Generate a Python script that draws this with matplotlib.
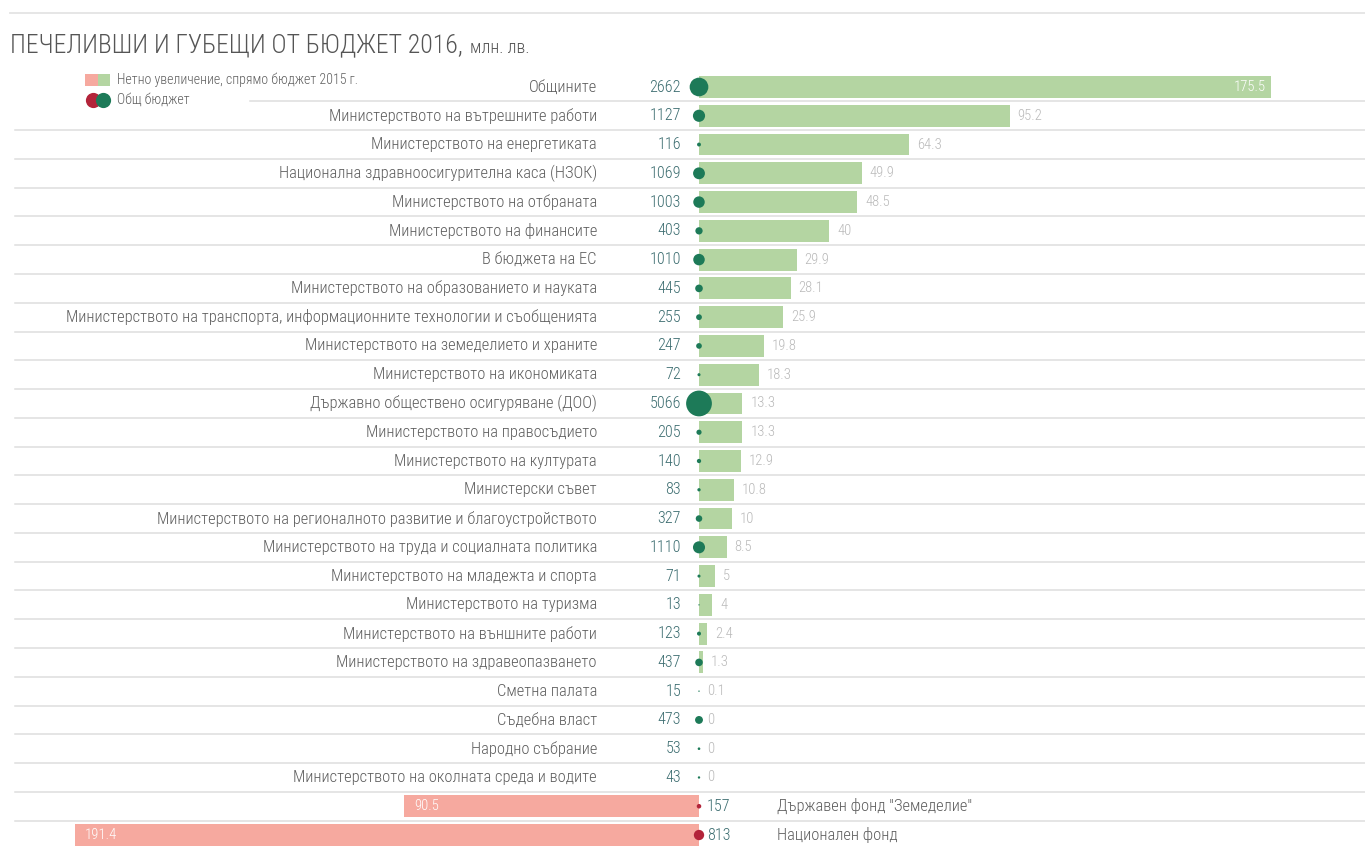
import matplotlib
matplotlib.use("Agg")
import matplotlib.pyplot as plt
import matplotlib.transforms as mtransforms
from matplotlib import font_manager
from matplotlib.patches import Rectangle

# ---------------- data ----------------
categories = [
    "Общините",
    "Министерството на вътрешните работи",
    "Министерството на енергетиката",
    "Национална здравноосигурителна каса (НЗОК)",
    "Министерството на отбраната",
    "Министерството на финансите",
    "В бюджета на ЕС",
    "Министерството на образованието и науката",
    "Министерството на транспорта, информационните технологии и съобщенията",
    "Министерството на земеделието и храните",
    "Министерството на икономиката",
    "Държавно обществено осигуряване (ДОО)",
    "Министерството на правосъдието",
    "Министерството на културата",
    "Министерски съвет",
    "Министерството на регионалното развитие и благоустройството",
    "Министерството на труда и социалната политика",
    "Министерството на младежта и спорта",
    "Министерството на туризма",
    "Министерството на външните работи",
    "Министерството на здравеопазването",
    "Сметна палата",
    "Съдебна власт",
    "Народно събрание",
    "Министерството на околната среда и водите",
    "Държавен фонд \"Земеделие\"",
    "Национален фонд",
]
total_budget = [2662, 1127, 116, 1069, 1003, 403, 1010, 445, 255, 247, 72, 5066,
                205, 140, 83, 327, 1110, 71, 13, 123, 437, 15, 473, 53, 43, 157, 813]
net_change = [175.5, 95.2, 64.3, 49.9, 48.5, 40, 29.9, 28.1, 25.9, 19.8, 18.3, 13.3,
              13.3, 12.9, 10.8, 10, 8.5, 5, 4, 2.4, 1.3, 0.1, 0, 0, 0, -90.5, -191.4]
change_labels = ["175.5", "95.2", "64.3", "49.9", "48.5", "40", "29.9", "28.1", "25.9",
                 "19.8", "18.3", "13.3", "13.3", "12.9", "10.8", "10", "8.5", "5", "4",
                 "2.4", "1.3", "0.1", "0", "0", "0", "90.5", "191.4"]
title_main = "ПЕЧЕЛИВШИ И ГУБЕЩИ ОТ БЮДЖЕТ 2016,"
title_unit = "млн. лв."
legend_labels = ["Нетно увеличение, спрямо бюджет 2015 г.", "Общ бюджет"]

# ---------------- fonts ----------------
available = {f.name for f in font_manager.fontManager.ttflist}
family = "DejaVu Sans"
for cand in ["Roboto Condensed", "Liberation Sans Narrow", "DejaVu Sans Condensed",
             "Open Sans Condensed"]:
    if cand in available:
        family = cand
        break
plt.rcParams["font.family"] = [family, "DejaVu Sans"]
plt.rcParams["font.weight"] = "light"

# ---------------- colors ----------------
GREEN_BAR = "#b4d5a2"
GREEN_DOT = "#1d7a58"
RED_BAR = "#f6a99f"
RED_DOT = "#b3243a"
LABEL_C = "#5e5e5e"
NUM_C = "#3c6d70"
VAL_C = "#b9b9b9"
LINE_C = "#dedede"

W, H, DPI = 1365, 847, 100
fig = plt.figure(figsize=(W / DPI, H / DPI), dpi=DPI)
ax = fig.add_axes([0, 0, 1, 1])
ax.set_axis_off()

# geometry (pixels)
zero_px = 699.0
px_per_unit = 3.262
row0_px = 87.0
row_step = 28.77
n = len(categories)

ax.set_xlim(-zero_px / px_per_unit, (W - zero_px) / px_per_unit)
ax.set_ylim((H - row0_px) / row_step, -row0_px / row_step)

def fx(px):
    return px / W

bt = mtransforms.blended_transform_factory(fig.transFigure, ax.transData)
rows = list(range(n))

# separators
for i in range(n - 1):
    x0 = 250 if i == 0 else 15
    ax.plot([fx(x0), 1.0], [i + 0.5, i + 0.5], transform=bt, color=LINE_C, lw=1.1, zorder=0)
# top rule
fig.add_artist(plt.Line2D([fx(10), 1.0], [1 - 13 / H, 1 - 13 / H], transform=fig.transFigure,
                          color="#e4e4e4", lw=1.3))

# bars
bar_colors = [GREEN_BAR if v >= 0 else RED_BAR for v in net_change]
ax.barh(rows, net_change, height=0.76, color=bar_colors, zorder=2, left=0)

# circles
dot_colors = [GREEN_DOT if v >= 0 else RED_DOT for v in net_change]
sizes = [b * 0.068 for b in total_budget]
ax.scatter([0] * n, rows, s=sizes, c=dot_colors, zorder=3, linewidths=0)

fs_label = 11.9
fs_num = 11.6
fs_val = 10.5

for i, (cat, b, v, lab) in enumerate(zip(categories, total_budget, net_change, change_labels)):
    if v >= 0:
        ax.text(fx(597), i, cat, transform=bt, ha="right", va="center", fontsize=fs_label,
                color=LABEL_C)
        ax.text(fx(681), i, str(b), transform=bt, ha="right", va="center", fontsize=fs_num,
                color=NUM_C)
        if i == 0:
            ax.annotate(lab, xy=(v, i), xytext=(-6, 0), textcoords="offset pixels",
                        ha="right", va="center", fontsize=fs_val, color="white", zorder=4)
        else:
            ax.annotate(lab, xy=(v, i), xytext=(8, 0), textcoords="offset pixels",
                        ha="left", va="center", fontsize=fs_val, color=VAL_C, zorder=4)
    else:
        ax.annotate(str(b), xy=(0, i), xytext=(8, 0), textcoords="offset pixels",
                    ha="left", va="center", fontsize=fs_num, color=NUM_C)
        ax.text(fx(777), i, cat, transform=bt, ha="left", va="center", fontsize=fs_label,
                color=LABEL_C)
        ax.annotate(lab, xy=(v, i), xytext=(10, 0), textcoords="offset pixels",
                    ha="left", va="center", fontsize=fs_val, color="white", zorder=4)

# title
t1 = fig.text(fx(10), 1 - 52 / H, title_main, ha="left", va="baseline", fontsize=18.5,
              color="#555555")
ax.annotate(title_unit, xy=(1, 0), xycoords=t1, xytext=(5, 0), textcoords="offset points",
            ha="left", va="bottom", fontsize=13, color="#555555")

# legend (drawn in figure coordinates)
ly1 = 1 - 80 / H
ly2 = 1 - 100 / H
sq_w, sq_h = 25 / W, 12 / H
fig.add_artist(Rectangle((fx(85), ly1 - sq_h / 2), sq_w / 2, sq_h, transform=fig.transFigure,
                         color=RED_BAR, lw=0))
fig.add_artist(Rectangle((fx(85) + sq_w / 2, ly1 - sq_h / 2), sq_w / 2, sq_h,
                         transform=fig.transFigure, color=GREEN_BAR, lw=0))
ax.scatter([fx(93)], [ly2], s=120, color=RED_DOT, transform=fig.transFigure, zorder=5,
           linewidths=0, clip_on=False)
ax.scatter([fx(103)], [ly2], s=120, color=GREEN_DOT, transform=fig.transFigure, zorder=6,
           linewidths=0, clip_on=False)
fig.text(fx(117), ly1, legend_labels[0], ha="left", va="center", fontsize=10, color=LABEL_C)
fig.text(fx(117), ly2, legend_labels[1], ha="left", va="center", fontsize=10, color=LABEL_C)

fig.savefig("out.png", dpi=DPI, facecolor="white")
